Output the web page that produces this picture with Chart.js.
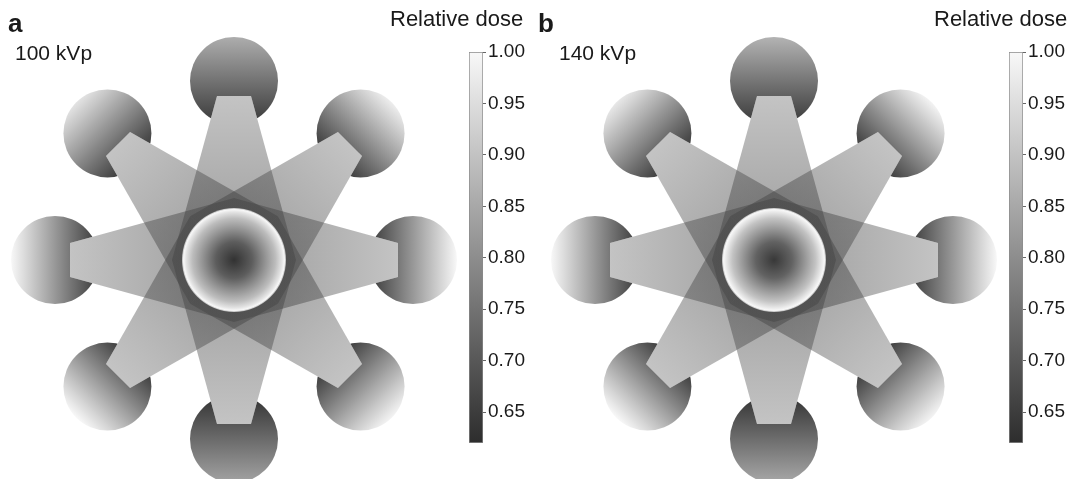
<!DOCTYPE html>
<html lang="en">
<head>
    <meta charset="UTF-8">
    <title>Relative dose</title>
</head>
<body>

<div id="page">
    <div class="lbl panel" style="left: 8px; top: 10px">a</div>
    <div class="lbl kvp" style="left: 15px; top: 42px">100 kVp</div>
    <div class="lbl ttl" style="left: 390px; top: 8px">Relative dose</div>
    <canvas id="mapA" width="470" height="479" style="left: 0; top: 0"></canvas>
    <canvas id="barA" width="61" height="430" style="left: 468px; top: 30px"></canvas>

    <div class="lbl panel" style="left: 538px; top: 10px">b</div>
    <div class="lbl kvp" style="left: 559px; top: 42px">140 kVp</div>
    <div class="lbl ttl" style="left: 934px; top: 8px">Relative dose</div>
    <canvas id="mapB" width="470" height="479" style="left: 540px; top: 0"></canvas>
    <canvas id="barB" width="61" height="430" style="left: 1008px; top: 30px"></canvas>
</div>

<script src="https://cdn.jsdelivr.net/npm/chart.js"></script>

<script>
    // beam / insert directions in degrees (counter-clockwise from +x)
    const beamAngles = [90, 45, 0, -45, -90, -135, 180, 135];

    // relative dose at outer and inner edge of each satellite insert
    const insertOuterA = [0.86, 0.98, 1.00, 0.99, 0.84, 1.00, 1.00, 0.96];
    const insertInnerA = [0.64, 0.63, 0.64, 0.63, 0.63, 0.63, 0.64, 0.63];
    const insertOuterB = [0.87, 0.99, 1.00, 0.99, 0.85, 1.00, 1.00, 0.97];
    const insertInnerB = [0.64, 0.63, 0.64, 0.63, 0.63, 0.63, 0.64, 0.63];

    // central insert: relative dose vs. fraction of its radius
    const coreRadii = [0, 0.35, 0.6, 0.8, 0.92, 0.97, 1];
    const coreDoseA = [0.63, 0.71, 0.81, 0.89, 0.96, 1.00, 0.88];
    const coreDoseB = [0.64, 0.72, 0.82, 0.90, 0.97, 1.00, 0.88];

    const cbTicks = [0.65, 0.70, 0.75, 0.80, 0.85, 0.90, 0.95, 1.00];
    const doseMin = 0.62;
    const doseMax = 1.00;

    // geometry (pixel-sized data units)
    const RING = 179;
    const INSERT_R = 44;
    const CORE_R = 52;
    const BEAM_END = 164;
    const BEAM_HALF_END = 17;
    const BEAM_HALF_MID = 62;

    Chart.defaults.font.family = "'Liberation Sans', Arial, sans-serif";

    function grayLevel(v) {
        const t = Math.max(0, Math.min(1, (v - doseMin) / (doseMax - doseMin)));
        return Math.round(45 + t * (248 - 45));
    }
    function gray(v) {
        const g = grayLevel(v);
        return `rgb(${g},${g},${g})`;
    }

    function pxLen(chart, r) {
        return Math.abs(chart.scales.x.getPixelForValue(r) - chart.scales.x.getPixelForValue(0));
    }

    function beamPoly(angle) {
        const a = angle * Math.PI / 180;
        const ux = Math.cos(a), uy = Math.sin(a);
        const nx = -uy, ny = ux;
        const ex = ux * BEAM_END, ey = uy * BEAM_END;
        return [
            {x: ex + nx * BEAM_HALF_END, y: ey + ny * BEAM_HALF_END},
            {x: ex - nx * BEAM_HALF_END, y: ey - ny * BEAM_HALF_END},
            {x: -nx * BEAM_HALF_MID, y: -ny * BEAM_HALF_MID},
            {x: nx * BEAM_HALF_MID, y: ny * BEAM_HALF_MID},
        ];
    }

    function makeMap(id, outer, inner, core) {
        const datasets = [];

        // central insert, radial dose
        datasets.push({
            data: [{x: 0, y: 0}],
            order: 1,
            pointRadius: ctx => ctx.chart.chartArea ? pxLen(ctx.chart, CORE_R) : 0,
            pointBorderWidth: 0,
            pointBorderColor: 'rgba(0,0,0,0)',
            pointBackgroundColor: ctx => {
                const chart = ctx.chart;
                if (!chart.chartArea) return gray(core[0]);
                const px = chart.scales.x.getPixelForValue(0);
                const py = chart.scales.y.getPixelForValue(0);
                const g = chart.ctx.createRadialGradient(px, py, 0, px, py, pxLen(chart, CORE_R));
                coreRadii.forEach((r, i) => g.addColorStop(r, gray(core[i])));
                return g;
            },
        });

        // beams: translucent layers, darker where they overlap
        for (const ang of beamAngles) {
            datasets.push({
                data: beamPoly(ang),
                beamAngle: ang,
                order: 2,
                showLine: true,
                fill: 'shape',
                tension: 0,
                borderWidth: 0,
                borderColor: 'rgba(0,0,0,0)',
                pointRadius: 0,
                backgroundColor: ctx => {
                    const chart = ctx.chart;
                    if (!chart.chartArea) return 'rgba(70,70,70,0.42)';
                    const a = ctx.dataset.beamAngle * Math.PI / 180;
                    const x = chart.scales.x, y = chart.scales.y;
                    const g = chart.ctx.createLinearGradient(
                        x.getPixelForValue(Math.cos(a) * BEAM_END), y.getPixelForValue(Math.sin(a) * BEAM_END),
                        x.getPixelForValue(0), y.getPixelForValue(0));
                    g.addColorStop(0, 'rgba(70,70,70,0.32)');
                    g.addColorStop(1, 'rgba(70,70,70,0.54)');
                    return g;
                },
            });
        }
        // beams: white base so the inserts do not show through
        for (const ang of beamAngles) {
            datasets.push({
                data: beamPoly(ang),
                order: 3,
                showLine: true,
                fill: 'shape',
                tension: 0,
                borderWidth: 0,
                borderColor: 'rgba(0,0,0,0)',
                pointRadius: 0,
                backgroundColor: '#ffffff',
            });
        }

        // satellite inserts, dose falling toward the centre
        datasets.push({
            data: beamAngles.map(d => ({x: RING * Math.cos(d * Math.PI / 180), y: RING * Math.sin(d * Math.PI / 180)})),
            order: 4,
            pointRadius: ctx => ctx.chart.chartArea ? pxLen(ctx.chart, INSERT_R) : 0,
            pointBorderWidth: 0,
            pointBorderColor: 'rgba(0,0,0,0)',
            pointBackgroundColor: ctx => {
                const chart = ctx.chart;
                const i = ctx.dataIndex;
                if (!chart.chartArea || i === undefined) return gray(0.8);
                const a = beamAngles[i] * Math.PI / 180;
                const x = chart.scales.x, y = chart.scales.y;
                const g = chart.ctx.createLinearGradient(
                    x.getPixelForValue(Math.cos(a) * (RING - INSERT_R)), y.getPixelForValue(Math.sin(a) * (RING - INSERT_R)),
                    x.getPixelForValue(Math.cos(a) * (RING + INSERT_R)), y.getPixelForValue(Math.sin(a) * (RING + INSERT_R)));
                g.addColorStop(0, gray(inner[i]));
                g.addColorStop(1, gray(outer[i]));
                return g;
            },
        });

        return new Chart(document.getElementById(id), {
            type: 'scatter',
            data: {datasets},
            options: {
                responsive: false,
                animation: false,
                events: [],
                layout: {padding: 0},
                scales: {
                    x: {type: 'linear', min: -234, max: 236, display: false},
                    y: {type: 'linear', min: -219, max: 260, display: false},
                },
                plugins: {legend: {display: false}, tooltip: {enabled: false}},
            },
        });
    }

    function makeBar(id) {
        return new Chart(document.getElementById(id), {
            type: 'bar',
            data: {
                labels: [''],
                datasets: [{
                    data: [[doseMin, doseMax]],
                    barPercentage: 1,
                    categoryPercentage: 1,
                    borderWidth: 1,
                    borderColor: '#8a8a8a',
                    borderSkipped: false,
                    backgroundColor: ctx => {
                        const chart = ctx.chart;
                        const area = chart.chartArea;
                        if (!area) return gray(0.8);
                        const g = chart.ctx.createLinearGradient(0, area.bottom, 0, area.top);
                        g.addColorStop(0, gray(doseMin));
                        g.addColorStop(1, gray(doseMax));
                        return g;
                    },
                }],
            },
            options: {
                responsive: false,
                animation: false,
                events: [],
                layout: {padding: {left: 1, top: 22, bottom: 17, right: 0}},
                scales: {
                    x: {display: false},
                    y: {
                        position: 'right',
                        min: doseMin,
                        max: doseMax,
                        afterBuildTicks: axis => {
                            axis.ticks = cbTicks.map(v => ({value: v}));
                        },
                        afterFit: axis => {
                            axis.width = 46;
                        },
                        ticks: {
                            callback: v => Number(v).toFixed(2),
                            font: {size: 19},
                            color: '#1a1a1a',
                            padding: 2,
                        },
                        grid: {drawOnChartArea: false, tickLength: 3, color: '#666'},
                        border: {display: false},
                    },
                },
                plugins: {legend: {display: false}, tooltip: {enabled: false}},
            },
        });
    }

    makeMap('mapA', insertOuterA, insertInnerA, coreDoseA);
    makeMap('mapB', insertOuterB, insertInnerB, coreDoseB);
    makeBar('barA');
    makeBar('barB');
</script>

<style>
    body {
        margin: 0;
        background: #ffffff;
    }

    #page {
        position: relative;
        width: 1070px;
        height: 479px;
        overflow: hidden;
        font-family: 'Liberation Sans', Arial, sans-serif;
        color: #1a1a1a;
    }

    canvas {
        position: absolute;
    }

    .lbl {
        position: absolute;
        white-space: nowrap;
        line-height: 1;
        z-index: 2;
    }

    .panel {
        font-size: 26px;
        font-weight: bold;
    }

    .kvp {
        font-size: 21px;
    }

    .ttl {
        font-size: 22px;
    }
</style>
</html>
